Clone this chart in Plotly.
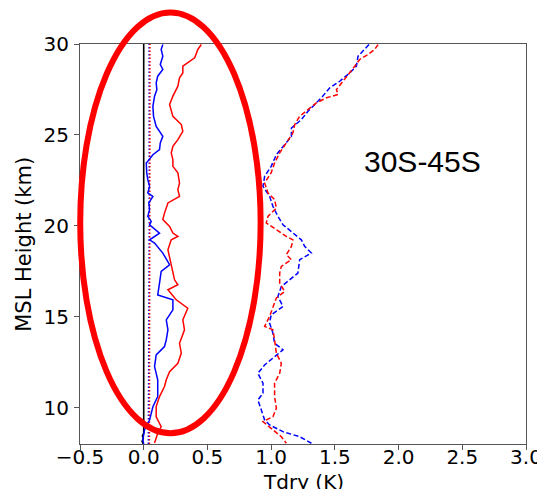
import plotly.graph_objects as go

# ---- data ----
# solid blue
blue_solid_h = [29.97, 29.70, 29.33, 28.87, 28.60, 28.23, 27.86, 27.49, 27.13, 26.57, 26.02, 25.47,
                24.92, 24.56, 24.19, 23.91, 23.55, 23.46, 22.91, 22.54, 22.17, 21.81, 21.62, 21.26,
                20.89, 20.52, 20.24, 20.06, 19.60, 19.23, 19.05, 18.50, 17.86, 17.49, 16.85, 16.20,
                15.93, 15.38, 14.83, 14.28, 13.73, 13.36, 12.90, 12.26, 11.53, 11.07, 10.61, 10.05,
                9.32, 8.77, 8.22, 8.00]
blue_solid_x = [0.150, 0.137, 0.150, 0.130, 0.150, 0.110, 0.098, 0.103, 0.085, 0.072, 0.077, 0.098,
                0.150, 0.130, 0.124, 0.072, 0.032, 0.020, 0.024, 0.032, 0.046, 0.032, 0.072, 0.040,
                0.046, 0.032, 0.059, 0.046, 0.124, 0.046, 0.085, 0.150, 0.203, 0.137, 0.124, 0.110,
                0.229, 0.229, 0.177, 0.190, 0.177, 0.163, 0.098, 0.085, 0.110, 0.110, 0.110, 0.072,
                0.046, 0.006, -0.007, 0.000]

# solid red
red_solid_h = [29.97, 29.70, 29.24, 28.96, 28.78, 28.41, 28.14, 27.68, 27.13, 26.67, 26.02, 25.57,
               25.20, 24.74, 24.37, 24.00, 23.64, 23.27, 22.91, 22.36, 21.99, 21.62, 21.26, 20.70,
               20.34, 19.97, 19.60, 19.42, 19.23, 18.68, 17.76, 17.03, 16.76, 16.48, 15.93, 15.47,
               14.83, 14.28, 13.54, 13.00, 12.44, 11.98, 11.53, 11.16, 10.61, 10.06, 9.50, 8.95,
               8.59, 8.05]
red_solid_x = [0.452, 0.425, 0.400, 0.346, 0.307, 0.307, 0.281, 0.268, 0.229, 0.203, 0.229, 0.295,
               0.307, 0.268, 0.229, 0.216, 0.229, 0.229, 0.268, 0.281, 0.268, 0.281, 0.190, 0.163,
               0.150, 0.203, 0.229, 0.268, 0.216, 0.190, 0.216, 0.242, 0.268, 0.190, 0.255, 0.346,
               0.307, 0.320, 0.281, 0.295, 0.268, 0.203, 0.177, 0.163, 0.124, 0.098, 0.098, 0.137,
               0.110, 0.085]

# dashed blue
blue_dash_h = [29.97, 29.70, 29.33, 28.78, 28.41, 27.95, 27.59, 27.04, 26.67, 26.30, 25.84, 25.38,
               24.92, 24.37, 23.91, 23.27, 22.72, 22.17, 21.62, 21.07, 20.52, 20.06, 19.69, 19.42,
               19.23, 18.87, 18.50, 18.14, 17.40, 17.03, 16.66, 16.11, 15.56, 15.10, 14.65, 14.10,
               13.54, 13.18, 12.81, 12.35, 11.89, 11.34, 10.79, 10.42, 9.87, 9.32, 9.05, 8.68,
               8.40, 8.04]
blue_dash_x = [1.768, 1.734, 1.682, 1.669, 1.617, 1.538, 1.460, 1.394, 1.342, 1.289, 1.237, 1.159,
               1.159, 1.093, 1.041, 1.000, 0.949, 0.936, 0.988, 1.014, 1.053, 1.093, 1.159, 1.210,
               1.237, 1.263, 1.316, 1.224, 1.210, 1.145, 1.080, 1.053, 1.093, 1.000, 0.988, 1.014,
               1.027, 1.093, 1.027, 0.949, 0.896, 0.936, 0.936, 0.896, 0.923, 0.949, 0.988, 1.093,
               1.224, 1.316]

# dashed red
red_dash_h = [29.97, 29.70, 29.42, 29.15, 28.78, 28.41, 27.95, 27.49, 27.22, 27.04, 26.76, 26.39,
              26.02, 25.57, 25.11, 24.56, 24.01, 23.46, 22.91, 22.36, 21.81, 21.44, 20.98, 20.52,
              20.16, 19.79, 19.42, 19.23, 18.87, 18.41, 18.14, 17.77, 17.40, 16.85, 16.39, 16.03,
              15.57, 15.02, 14.47, 14.28, 13.73, 13.00, 12.44, 11.89, 11.34, 10.61, 9.97, 9.50,
              9.23, 8.77, 8.40, 8.04]
red_dash_x = [1.839, 1.813, 1.760, 1.695, 1.656, 1.617, 1.564, 1.512, 1.525, 1.434, 1.355, 1.289,
              1.224, 1.185, 1.171, 1.119, 1.067, 1.027, 1.000, 0.949, 0.975, 1.027, 1.041, 0.975,
              0.962, 1.041, 1.119, 1.171, 1.159, 1.119, 1.159, 1.080, 1.067, 1.067, 1.106, 1.041,
              1.014, 0.988, 0.949, 1.014, 1.027, 1.041, 1.080, 1.067, 1.027, 1.027, 1.041, 1.014,
              0.936, 1.014, 1.080, 1.119]

# dotted reference profiles and zero line
dot_h = [8.0, 10.0, 12.0, 14.0, 16.0, 18.0, 20.0, 22.0, 24.0, 26.0, 28.0, 30.0]
blue_dot_x = [0.036, 0.038, 0.040, 0.041, 0.042, 0.042, 0.043, 0.043, 0.042, 0.043, 0.042, 0.042]
red_dot_x = [0.045, 0.046, 0.047, 0.047, 0.048, 0.048, 0.048, 0.049, 0.048, 0.049, 0.049, 0.049]
zero_h = [8.0, 8.15, 8.3, 8.45, 8.6, 30.0]
zero_x = [-0.004, -0.013, -0.003, -0.010, 0.0, 0.0]

region_label = "30S-45S"
x_ticks = [-0.5, 0.0, 0.5, 1.0, 1.5, 2.0, 2.5, 3.0]
x_tick_text = ["\u22120.5", "0.0", "0.5", "1.0", "1.5", "2.0", "2.5", "3.0"]
y_ticks = [10, 15, 20, 25, 30]

BLUE = "#0000ff"
RED = "#ff0000"

fig = go.Figure()
fig.add_trace(go.Scatter(x=zero_x, y=zero_h, mode="lines", line=dict(color="black", width=1.6)))
fig.add_trace(go.Scatter(x=blue_dot_x, y=dot_h, mode="lines",
                         line=dict(color=BLUE, width=1.4, dash="1.5px,2px")))
fig.add_trace(go.Scatter(x=red_dot_x, y=dot_h, mode="lines",
                         line=dict(color=RED, width=1.4, dash="1.5px,2px")))
fig.add_trace(go.Scatter(x=blue_solid_x, y=blue_solid_h, mode="lines",
                         line=dict(color=BLUE, width=1.5)))
fig.add_trace(go.Scatter(x=red_solid_x, y=red_solid_h, mode="lines",
                         line=dict(color=RED, width=1.5)))
fig.add_trace(go.Scatter(x=blue_dash_x, y=blue_dash_h, mode="lines",
                         line=dict(color=BLUE, width=1.5, dash="5px,2.5px")))
fig.add_trace(go.Scatter(x=red_dash_x, y=red_dash_h, mode="lines",
                         line=dict(color=RED, width=1.5, dash="5px,2.5px")))

axis_common = dict(showgrid=False, zeroline=False, showline=True, mirror=True,
                   linecolor="#555555", linewidth=1, ticks="outside", ticklen=5,
                   tickcolor="#555555", automargin=False,
                   tickfont=dict(family="DejaVu Sans", size=20, color="black"))
fig.update_xaxes(range=[-0.5, 3.0], tickvals=x_ticks, ticktext=x_tick_text,
                 ticklabelstandoff=-10, **axis_common)
fig.update_yaxes(range=[8.0, 30.0], tickvals=y_ticks, ticklabelstandoff=1, **axis_common)

# the annotation ellipse (extends beyond the plot frame)
fig.add_shape(type="circle", xref="paper", yref="paper",
              x0=0.0005, x1=0.405, y0=0.027, y1=1.079,
              line=dict(color=RED, width=6), layer="above")

fig.add_annotation(text=region_label, xref="paper", yref="paper", x=0.769, y=0.706,
                   xanchor="center", yanchor="middle", showarrow=False,
                   font=dict(family="Liberation Sans", size=30, color="black"))
fig.add_annotation(text="Tdry (K)", xref="paper", yref="paper", x=0.5, y=0,
                   xanchor="center", yanchor="top", yshift=-24, showarrow=False,
                   font=dict(family="DejaVu Sans", size=20, color="black"))
fig.add_annotation(text="MSL Height (km)", xref="paper", yref="paper", x=-0.126, y=0.5,
                   xanchor="center", yanchor="middle", textangle=-90, showarrow=False,
                   font=dict(family="DejaVu Sans", size=21, color="black"))

# the page body adds an 8 px offset, so the figure is 8 px smaller on each axis
fig.update_layout(width=537, height=481, showlegend=False,
                  margin=dict(l=72, r=19, t=36, b=45, autoexpand=False),
                  plot_bgcolor="white", paper_bgcolor="white")

fig.write_html("out.html")
